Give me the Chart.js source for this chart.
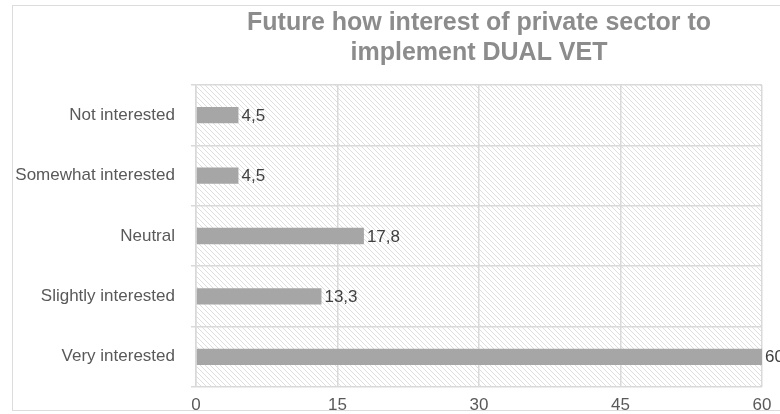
<!DOCTYPE html>
<html lang="en">
<head>
    <meta charset="UTF-8">
    <title>Future interest of private sector in DUAL VET</title>
    <script src="https://cdn.jsdelivr.net/npm/chart.js"></script>
    <style>
        html, body { margin: 0; padding: 0; background: #fff; overflow: hidden; }
        #wrap { position: relative; width: 780px; height: 414px; }
    </style>
</head>
<body>
    <div id="wrap">
        <canvas id="interestChart" width="780" height="414"></canvas>
    </div>
    <script>
        // Survey answers, top to bottom
        const categories = ['Not interested', 'Somewhat interested', 'Neutral', 'Slightly interested', 'Very interested'];
        const shares = [4.5, 4.5, 17.8, 13.3, 60];
        const axisTicks = [0, 15, 30, 45, 60];

        const chartTitle = ['Future how interest of private sector to', 'implement DUAL VET'];

        const FONT = '"Liberation Sans", Arial, sans-serif';

        // Diagonal hatching used behind the bars
        function makeHatch() {
            const size = 5;
            const c = document.createElement('canvas');
            c.width = size;
            c.height = size;
            const g = c.getContext('2d');
            g.strokeStyle = '#dedede';
            g.lineWidth = 1;
            g.beginPath();
            g.moveTo(-1, -1); g.lineTo(size + 1, size + 1);
            g.moveTo(-1, size - 1); g.lineTo(1, size + 1);
            g.moveTo(size - 1, -1); g.lineTo(size + 1, 1);
            g.stroke();
            return g.createPattern(c, 'repeat');
        }

        const frameAndHatch = {
            id: 'frameAndHatch',
            beforeDraw(chart) {
                const { ctx, chartArea } = chart;
                ctx.save();
                ctx.strokeStyle = '#dcdcdc';
                ctx.lineWidth = 1;
                ctx.strokeRect(12.5, 5.5, 820, 405);
                ctx.fillStyle = makeHatch();
                ctx.fillRect(chartArea.left, chartArea.top,
                    chartArea.right - chartArea.left, chartArea.bottom - chartArea.top);
                ctx.restore();
            }
        };

        // Value text just past the end of each bar, with a decimal comma
        const barValues = {
            id: 'barValues',
            afterDatasetsDraw(chart) {
                const { ctx } = chart;
                const meta = chart.getDatasetMeta(0);
                ctx.save();
                ctx.font = '17px ' + FONT;
                ctx.fillStyle = '#404040';
                ctx.textAlign = 'left';
                ctx.textBaseline = 'middle';
                meta.data.forEach((bar, i) => {
                    const txt = String(shares[i]).replace('.', ',');
                    ctx.fillText(txt, bar.x + 3, bar.y + 1);
                });
                ctx.restore();
            }
        };

        new Chart(document.getElementById('interestChart'), {
            type: 'bar',
            data: {
                labels: categories,
                datasets: [{
                    data: shares,
                    backgroundColor: '#a6a6a6',
                    borderWidth: 0,
                    categoryPercentage: 1,
                    barPercentage: 0.27
                }]
            },
            options: {
                indexAxis: 'y',
                responsive: false,
                animation: false,
                devicePixelRatio: 1,
                layout: { padding: { left: 0, right: 18, top: 0, bottom: 0 } },
                plugins: {
                    legend: { display: false },
                    tooltip: { enabled: false },
                    title: {
                        display: true,
                        text: chartTitle,
                        fullSize: false,
                        color: '#8c8c8c',
                        font: { family: FONT, size: 25, weight: 'bold', lineHeight: 1.2 },
                        padding: { top: 8, bottom: 17 }
                    }
                },
                scales: {
                    x: {
                        min: 0,
                        max: 60,
                        afterBuildTicks(scale) {
                            scale.ticks = axisTicks.map(v => ({ value: v }));
                        },
                        afterFit(scale) { scale.height = 27; },
                        grid: { color: '#d9d9d9', lineWidth: 1.5, drawTicks: false },
                        border: { display: false },
                        ticks: {
                            color: '#595959',
                            padding: 8,
                            font: { family: FONT, size: 17 }
                        }
                    },
                    y: {
                        afterFit(scale) { scale.width = 196; },
                        grid: { color: '#d9d9d9', lineWidth: 1.5, tickLength: 5 },
                        border: { color: '#d9d9d9', width: 1.5 },
                        ticks: {
                            color: '#595959',
                            padding: 16,
                            font: { family: FONT, size: 17 }
                        }
                    }
                }
            },
            plugins: [frameAndHatch, barValues]
        });
    </script>
</body>
</html>
